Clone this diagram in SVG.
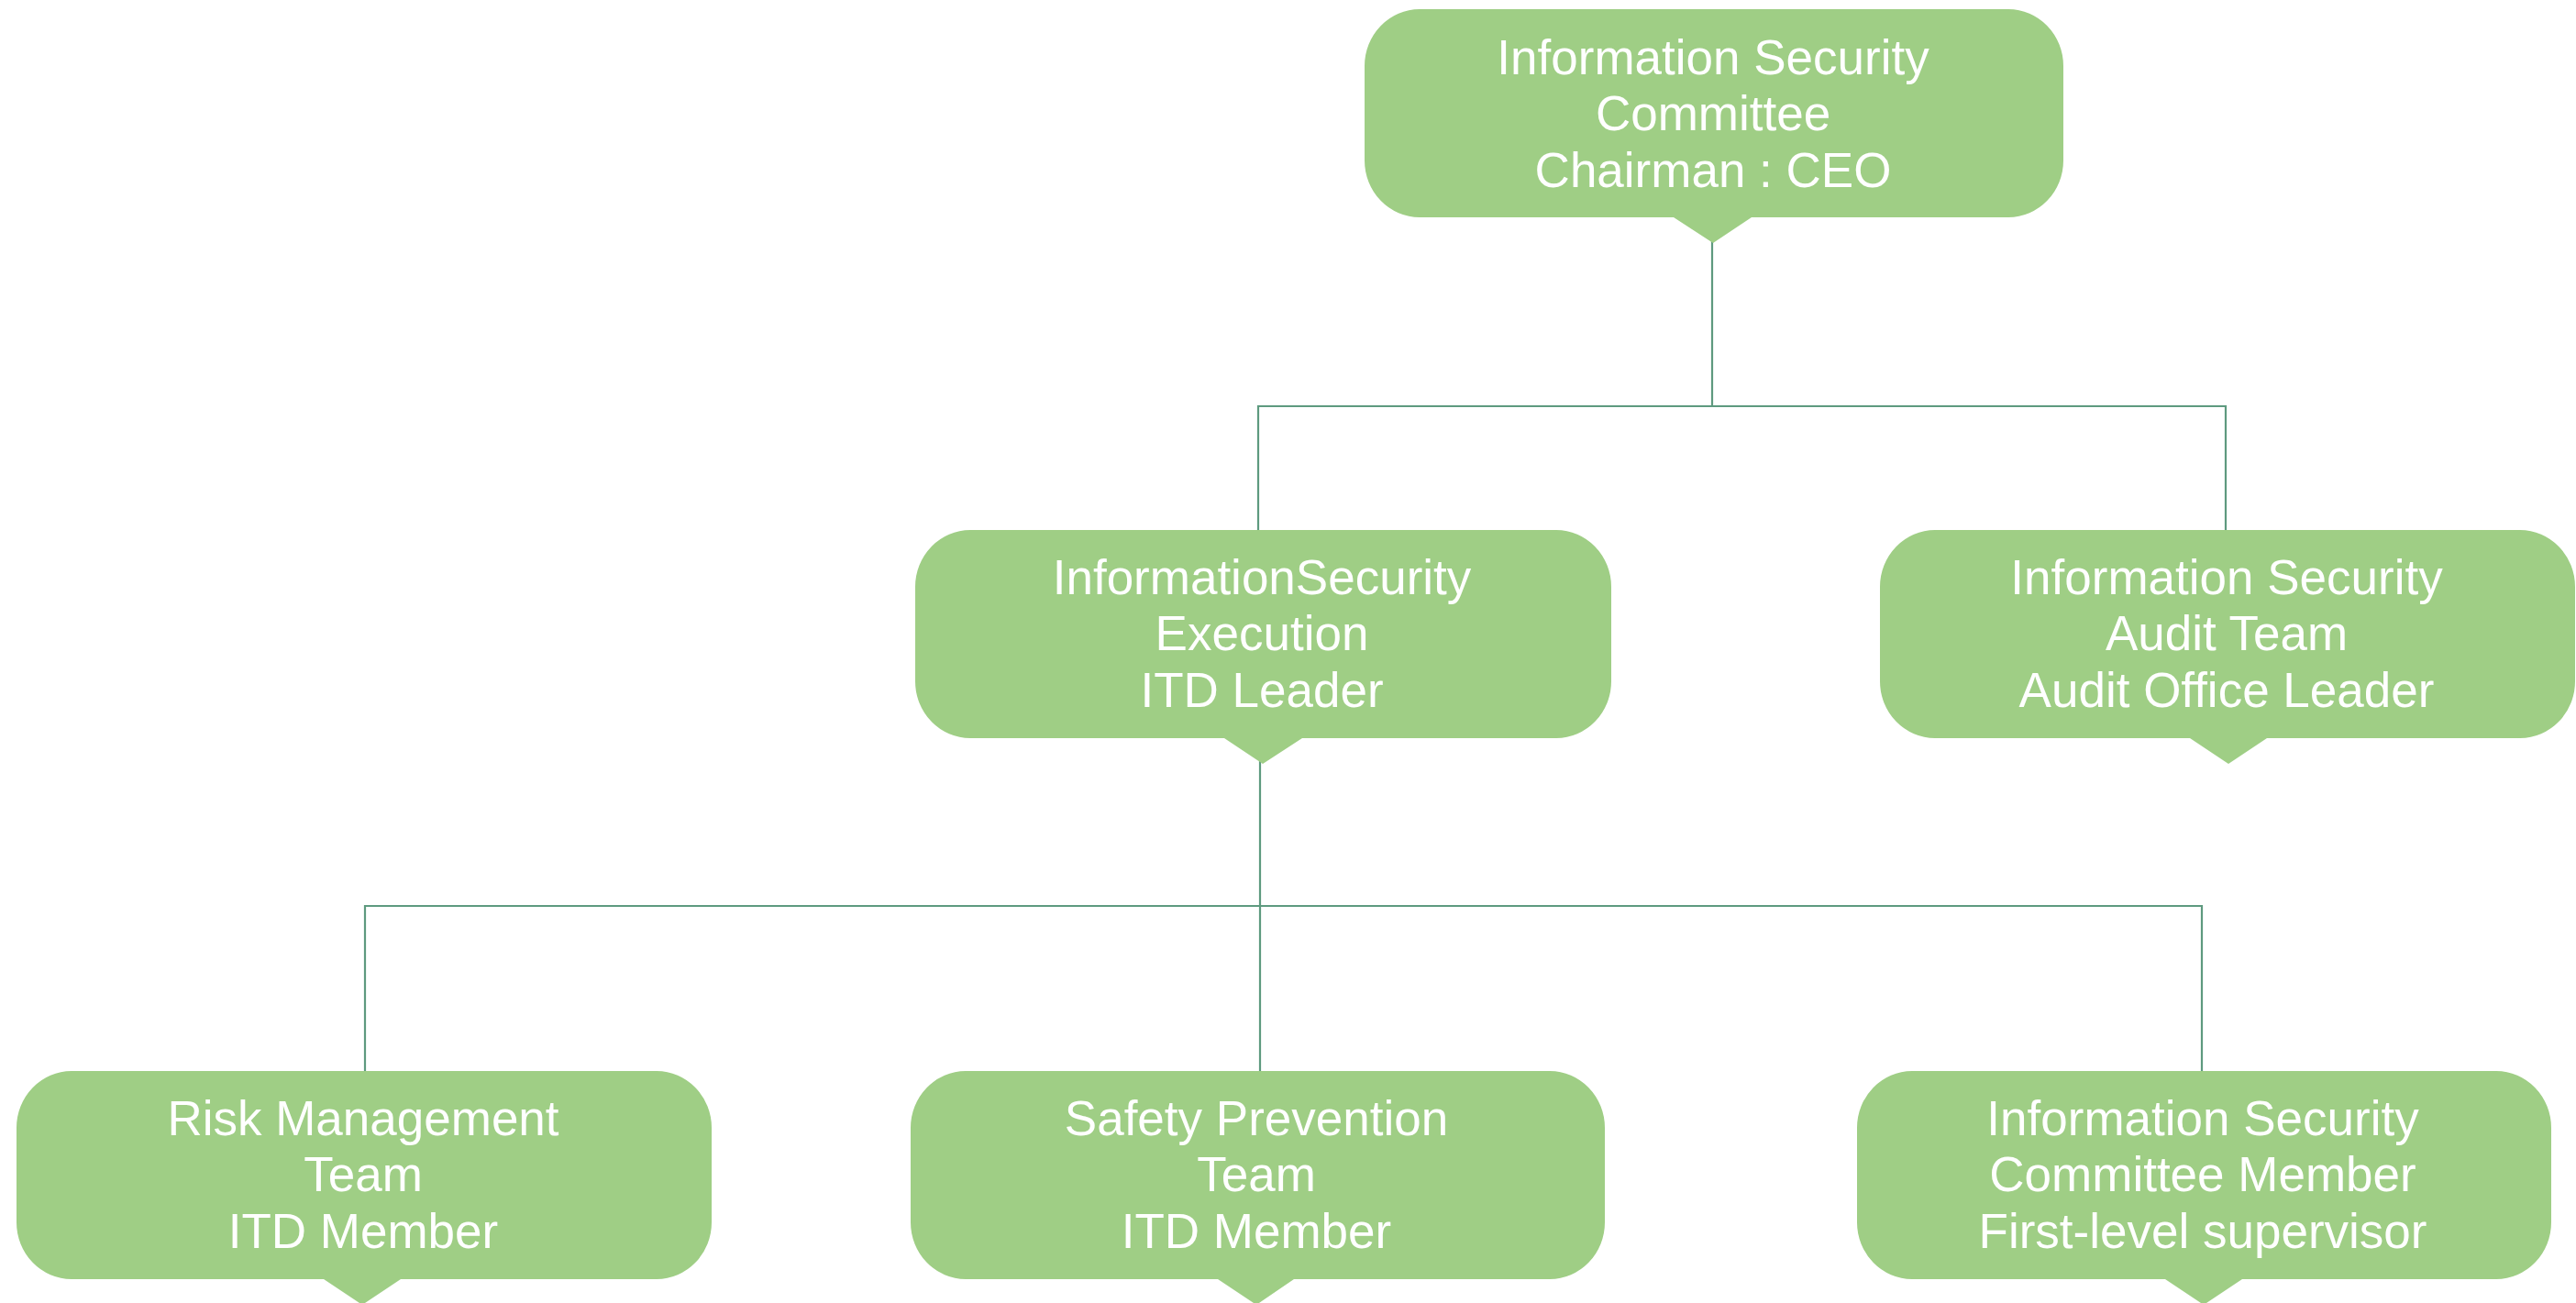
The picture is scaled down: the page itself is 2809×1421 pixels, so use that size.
<svg xmlns="http://www.w3.org/2000/svg" width="2809" height="1421" viewBox="0 0 2809 1421">
<style>
.box{fill:#9fce85;}
.lbl{font-family:"Liberation Sans",Arial,sans-serif;font-size:53px;fill:#ffffff;text-anchor:middle;}
.conn{fill:none;stroke:#5e9a7f;stroke-width:2.2;}
</style>
<rect width="2809" height="1421" fill="#ffffff"/>
<g id="connectors">
<path class="conn" d="M1867 262 V443 M1372 580 V443 H2427 V580"/>
<path class="conn" d="M1374 830 V1170 M398 1170 V988 H2401 V1170"/>
</g>
<g id="n-committee">
<path class="box" d="M1548 10 H2190 A60 62 0 0 1 2250 72 V175 A60 62 0 0 1 2190 237 H1910 L1868 265 L1825 237 H1548 A60 62 0 0 1 1488 175 V72 A60 62 0 0 1 1548 10 Z"/>
<text class="lbl" x="1868" y="81">Information Security</text>
<text class="lbl" x="1868" y="142">Committee</text>
<text class="lbl" x="1868" y="204">Chairman : CEO</text>
</g>
<g id="n-execution">
<path class="box" d="M1058 578 H1697 A60 62 0 0 1 1757 640 V743 A60 62 0 0 1 1697 805 H1420 L1377 833 L1335 805 H1058 A60 62 0 0 1 998 743 V640 A60 62 0 0 1 1058 578 Z"/>
<text class="lbl" x="1376" y="648">InformationSecurity</text>
<text class="lbl" x="1376" y="709">Execution</text>
<text class="lbl" x="1376" y="771">ITD Leader</text>
</g>
<g id="n-audit">
<path class="box" d="M2110 578 H2748 A60 62 0 0 1 2808 640 V743 A60 62 0 0 1 2748 805 H2472 L2430 833 L2388 805 H2110 A60 62 0 0 1 2050 743 V640 A60 62 0 0 1 2110 578 Z"/>
<text class="lbl" x="2428" y="648">Information Security</text>
<text class="lbl" x="2428" y="709">Audit Team</text>
<text class="lbl" x="2428" y="771">Audit Office Leader</text>
</g>
<g id="n-risk">
<path class="box" d="M78 1168 H716 A60 62 0 0 1 776 1230 V1333 A60 62 0 0 1 716 1395 H437 L395 1423 L353 1395 H78 A60 62 0 0 1 18 1333 V1230 A60 62 0 0 1 78 1168 Z"/>
<text class="lbl" x="396" y="1238">Risk Management</text>
<text class="lbl" x="396" y="1299">Team</text>
<text class="lbl" x="396" y="1361">ITD Member</text>
</g>
<g id="n-safety">
<path class="box" d="M1053 1168 H1690 A60 62 0 0 1 1750 1230 V1333 A60 62 0 0 1 1690 1395 H1411 L1370 1423 L1328 1395 H1053 A60 62 0 0 1 993 1333 V1230 A60 62 0 0 1 1053 1168 Z"/>
<text class="lbl" x="1370" y="1238">Safety Prevention</text>
<text class="lbl" x="1370" y="1299">Team</text>
<text class="lbl" x="1370" y="1361">ITD Member</text>
</g>
<g id="n-member">
<path class="box" d="M2085 1168 H2722 A60 62 0 0 1 2782 1230 V1333 A60 62 0 0 1 2722 1395 H2445 L2403 1423 L2361 1395 H2085 A60 62 0 0 1 2025 1333 V1230 A60 62 0 0 1 2085 1168 Z"/>
<text class="lbl" x="2402" y="1238">Information Security</text>
<text class="lbl" x="2402" y="1299">Committee Member</text>
<text class="lbl" x="2402" y="1361">First-level supervisor</text>
</g>
</svg>
